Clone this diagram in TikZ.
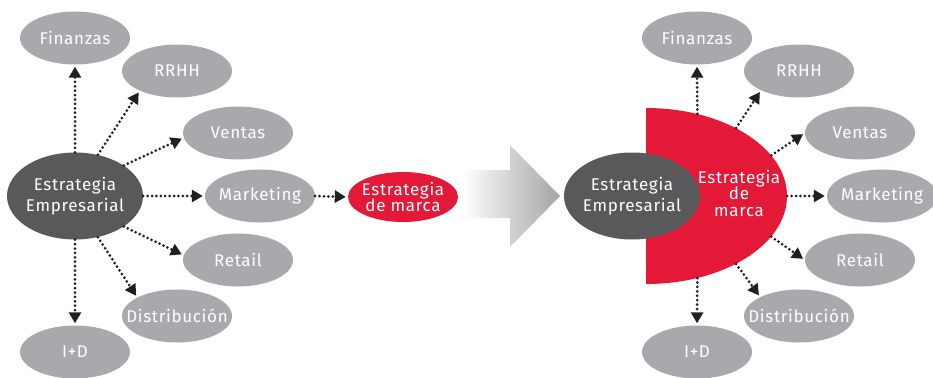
\documentclass[tikz,border=0pt]{standalone}
\usepackage{fontspec}
\setmainfont[LetterSpace=4]{Fira Sans}
\usetikzlibrary{arrows.meta,shapes.geometric}
\definecolor{boxgray}{HTML}{A7A9AC}
\definecolor{coregray}{HTML}{58595B}
\definecolor{brandred}{HTML}{E31937}
\definecolor{inkdark}{HTML}{231F20}
\definecolor{arrowgray}{HTML}{A2A4A7}
\begin{document}
\begin{tikzpicture}[x=1pt,y=-1pt,
  area/.style={ellipse, fill=boxgray, text=white, minimum width=110pt, minimum height=53pt,
    inner xsep=-20pt, inner ysep=0pt, font=\fontsize{17}{20}\selectfont},
  core/.style={ellipse, fill=coregray, text=white, minimum width=136pt, minimum height=87pt,
    inner xsep=-15pt, inner ysep=0pt, align=center, font=\fontsize{17}{21}\selectfont},
  brandtext/.style={text=white, align=center, inner sep=0pt, font=\fontsize{17}{16.5}\selectfont},
  flow/.style={draw=inkdark, line width=3pt, line cap=round, dash pattern=on 0pt off 4.4pt,
    shorten >=2pt, -{Triangle[length=11pt,width=12pt,fill=inkdark]}},
]
\useasboundingbox (0,0) rectangle (933,377);

% ---------- left: corporate strategy with its functional areas ----------
\node[core] (ee) at (75,196) {Estrategia\\Empresarial};
\node[area] (fin)  at (75,38)   {Finanzas};
\node[area] (rrhh) at (177,71)  {RRHH};
\node[area] (ven)  at (238,133) {Ventas};
\node[area] (mkt)  at (260,196) {Marketing};
\node[area] (ret)  at (238,260) {Retail};
\node[area] (dis)  at (177,316) {Distribución};
\node[area] (id)   at (75,352)  {I+D};
\node[ellipse, fill=brandred, minimum width=110pt, minimum height=50pt, brandtext, inner xsep=-15pt]
  (brand) at (403,197) {Estrategia\\de marca};

\draw[flow] (ee.90)  -- (fin.270);
\draw[flow] (ee.61)  -- (rrhh.208);
\draw[flow] (ee.32)  -- (ven.185);
\draw[flow] (ee.0)   -- (mkt.180);
\draw[flow] (ee.-32) -- (ret.175);
\draw[flow] (ee.-61) -- (dis.155);
\draw[flow] (ee.-90) -- (id.90);
\draw[flow] (mkt.0)  -- (brand.180);

% ---------- transition arrow ----------
\shade[left color=white, right color=arrowgray]
  (463,170) -- (510,170) -- (510,145) -- (560,196) -- (510,247) -- (510,218) -- (463,218) -- cycle;

% ---------- right: brand strategy wrapping the corporate strategy ----------
\node[ellipse, minimum width=282pt, minimum height=176pt, inner sep=0pt] (bm) at (646,196) {};
\fill[brandred] (646,108) arc[start angle=-90, end angle=90, x radius=141, y radius=88] -- cycle;
\node[core] (ee2) at (632,196) {Estrategia\\Empresarial};
\node[brandtext] (bt) at (739,193) {Estrategia\\de\\marca};

\node[area] (fin2)  at (697,38)  {Finanzas};
\node[area] (rrhh2) at (799,71)  {RRHH};
\node[area] (ven2)  at (860,133) {Ventas};
\node[area] (mkt2)  at (882,196) {Marketing};
\node[area] (ret2)  at (860,260) {Retail};
\node[area] (dis2)  at (799,316) {Distribución};
\node[area] (id2)   at (697,352) {I+D};

\draw[flow] (bm.58)    -- (fin2.270);
\draw[flow] (bm.37.4)  -- (rrhh2.207);
\draw[flow] (bm.18.3)  -- (ven2.180);
\draw[flow] (bm.0)     -- (mkt2.180);
\draw[flow] (bm.-18.3) -- (ret2.180);
\draw[flow] (bm.-37.4) -- (dis2.154);
\draw[flow] (bm.-58)   -- (id2.90);
\end{tikzpicture}
\end{document}
